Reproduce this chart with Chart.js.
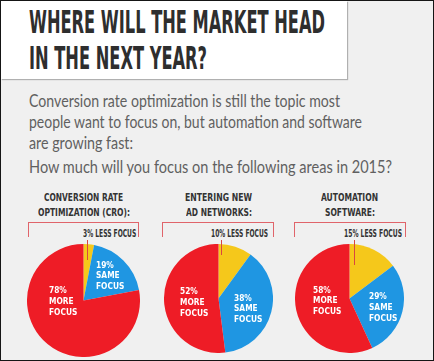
<!DOCTYPE html>
<html>
<head>
<meta charset="utf-8">
<script src="https://cdn.jsdelivr.net/npm/chart.js@4.4.1/dist/chart.umd.min.js"></script>
<style>
  html, body { margin: 0; padding: 0; background: #efefef; }
  #wrap { position: relative; width: 434px; height: 361px; background: #f0f0f0; overflow: hidden; }
  .t { position: absolute; white-space: nowrap; line-height: 1; transform-origin: 0 0; }
  .cv { position: absolute; }
  .ln { position: absolute; }
</style>
</head>
<body>
<div id="wrap"></div>
<script>
// ---------------- DATA ----------------
const headingLines = ['WHERE WILL THE MARKET HEAD', 'IN THE NEXT YEAR?'];
const introLines = [
  'Conversion rate optimization is still the topic most',
  'people want to focus on, but automation and software',
  'are growing fast:'
];
const questionLine = 'How much will you focus on the following areas in 2015?';
const categories = ['LESS FOCUS', 'SAME FOCUS', 'MORE FOCUS'];
const chartTitles = [
  ['CONVERSION RATE', 'OPTIMIZATION (CRO):'],
  ['ENTERING NEW', 'AD NETWORKS:'],
  ['AUTOMATION', 'SOFTWARE:']
];
const croValues = [3, 19, 78];
const adNetworkValues = [10, 38, 52];
const automationValues = [15, 29, 58];
const seriesValues = [croValues, adNetworkValues, automationValues];
const sliceColors = ['#F5C81B', '#1F96E2', '#EE1C26'];

// ---------------- LAYOUT ----------------
const wrap = document.getElementById('wrap');
const NARROW = '"Liberation Sans Narrow", "DejaVu Sans Condensed", sans-serif';
const LATO = 'Lato, "Open Sans", sans-serif';
const K = { narrow: 0.8465, lato: 0.887 };

function addText(text, o) {
  const d = document.createElement('div');
  d.className = 't';
  d.textContent = text;
  d.style.fontFamily = o.family === 'lato' ? LATO : NARROW;
  d.style.fontWeight = o.weight || 'normal';
  d.style.fontSize = o.size + 'px';
  d.style.color = o.color;
  d.style.top = (o.baseline - K[o.family] * o.size) + 'px';
  wrap.appendChild(d);
  const w = d.getBoundingClientRect().width;
  const tw = o.width || w;
  const s = tw / w;
  let left = o.x;
  if (o.align === 'center') left = o.x - tw / 2;
  d.style.left = left + 'px';
  if (Math.abs(s - 1) > 0.001) d.style.transform = 'scaleX(' + s + ')';
  return d;
}
function addBox(x, y, w, h, css) {
  const d = document.createElement('div');
  d.className = 'ln';
  d.style.left = x + 'px'; d.style.top = y + 'px';
  d.style.width = w + 'px'; d.style.height = h + 'px';
  Object.assign(d.style, css || {});
  wrap.appendChild(d);
  return d;
}

// title box
addBox(1, 1, 346, 78, { background: '#ffffff', boxShadow: '1px 1px 1px 0 #b0b0b0' });
addText(headingLines[0], { x: 29, baseline: 33.5, size: 32, family: 'narrow', weight: 'bold', color: '#2e2e2e', width: 296 });
addText(headingLines[1], { x: 29, baseline: 69.5, size: 32, family: 'narrow', weight: 'bold', color: '#2e2e2e', width: 178 });

// intro paragraph
const introWidths = [311, 333, 104];
const introBase = [108, 129, 150];
introLines.forEach((l, i) => addText(l, { x: 29, baseline: introBase[i], size: 16.5, family: 'lato', color: '#606060', width: introWidths[i] }));
addText(questionLine, { x: 29, baseline: 173.5, size: 16.5, family: 'lato', color: '#606060', width: 363 });

// pies
const pieGeom = [
  { left: 27, top: 244, size: 113, cx: 83.5 },
  { left: 164, top: 244, size: 109, cx: 218.5 },
  { left: 295, top: 244, size: 109, cx: 349.5 }
];
const titleWidths = [[79, 92], [67, 66], [57, 50]];
const bracket = [[28, 138], [162, 273], [294, 405]];
const lessLabelGeom = [{ x: 82.7, w: 53.3 }, { x: 211, w: 57 }, { x: 344, w: 58 }];
const leader = [{ x: 87, y1: 240, y2: 260 }, { x: 221, y1: 240, y2: 255 }, { x: 354, y1: 240, y2: 265 }];
const sliceLabelAnchors = [
  [null, { dx: 12.5, dy: -33 }, { dx: -34.5, dy: -7.5 }],
  [null, { dx: 15.5, dy: 2 }, { dx: -38.5, dy: -4.5 }],
  [null, { dx: 19.5, dy: 0.5 }, { dx: -36.5, dy: -6 }]
];

const sliceLabelPlugin = {
  id: 'sliceLabels',
  afterDatasetsDraw(chart, args, opts) {
    const ctx = chart.ctx;
    const meta = chart.getDatasetMeta(0);
    const vals = chart.data.datasets[0].data;
    const cx = meta.data[0].x, cy = meta.data[0].y;
    ctx.save();
    ctx.fillStyle = '#ffffff';
    ctx.font = 'bold 9px ' + NARROW;
    ctx.textAlign = 'left';
    ctx.textBaseline = 'alphabetic';
    opts.anchors.forEach((a, i) => {
      if (!a) return;
      const lines = [vals[i] + '%'].concat(chart.data.labels[i].split(' '));
      lines.forEach((t, j) => {
        ctx.save();
        ctx.translate(cx + a.dx, cy + a.dy + j * 10.8);
        ctx.scale(0.92, 1);
        ctx.fillText(t, 0, 0);
        ctx.restore();
      });
    });
    ctx.restore();
  }
};

seriesValues.forEach((vals, k) => {
  const g = pieGeom[k];
  // titles
  addText(chartTitles[k][0], { x: g.cx, align: 'center', baseline: 201, size: 11, family: 'narrow', weight: 'bold', color: '#333333', width: titleWidths[k][0] });
  addText(chartTitles[k][1], { x: g.cx, align: 'center', baseline: 216, size: 11, family: 'narrow', weight: 'bold', color: '#333333', width: titleWidths[k][1] });
  // bracket
  const b = bracket[k];
  addBox(b[0], 222, b[1] - b[0] + 1, 1, { background: '#e0646a' });
  addBox(b[0], 222, 1, 15, { background: '#e0646a' });
  addBox(b[1], 222, 1, 15, { background: '#e0646a' });
  // "less focus" label
  const lg = lessLabelGeom[k];
  addText(vals[0] + '% ' + categories[0], { x: lg.x, baseline: 237.5, size: 10, family: 'narrow', weight: 'bold', color: '#333333', width: lg.w });
  // canvas
  const c = document.createElement('canvas');
  c.className = 'cv';
  c.width = g.size; c.height = g.size;
  c.style.left = g.left + 'px'; c.style.top = g.top + 'px';
  c.style.width = g.size + 'px'; c.style.height = g.size + 'px';
  wrap.appendChild(c);
  new Chart(c, {
    type: 'pie',
    data: {
      labels: categories,
      datasets: [{ data: vals, backgroundColor: sliceColors, borderWidth: 0 }]
    },
    options: {
      responsive: false,
      animation: false,
      devicePixelRatio: 1,
      layout: { padding: 0 },
      plugins: {
        legend: { display: false },
        tooltip: { enabled: false },
        sliceLabels: { anchors: sliceLabelAnchors[k] }
      }
    },
    plugins: [sliceLabelPlugin]
  });
  // leader line
  const ld = leader[k];
  addBox(ld.x, ld.y1, 1, ld.y2 - ld.y1, { background: '#d9473f', zIndex: 5 });
});

// outer frame
addBox(0, 0, 434, 361, { boxSizing: 'border-box', border: '1px solid #151515', zIndex: 10 });
</script>
</body>
</html>
